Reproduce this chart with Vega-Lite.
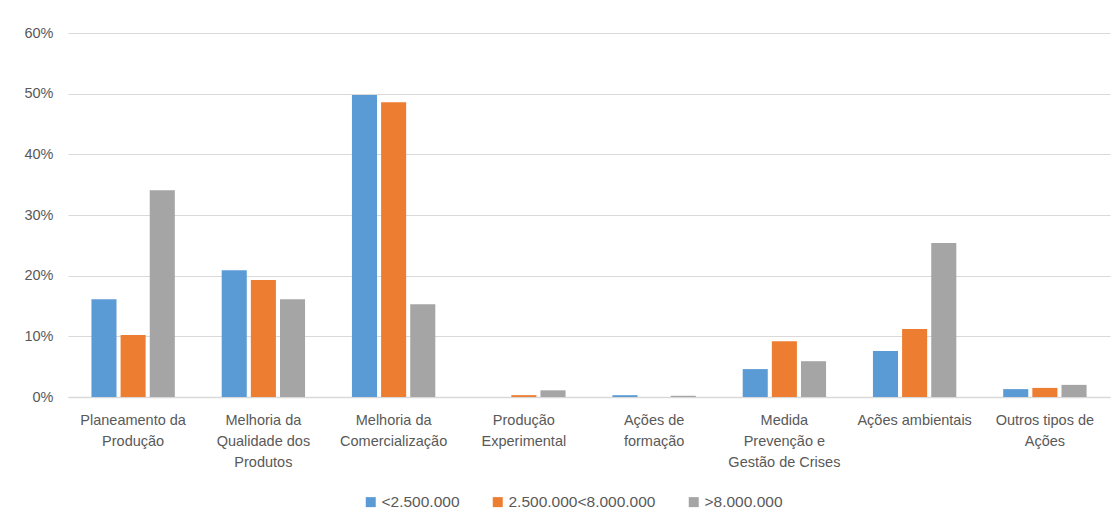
{
  "$schema": "https://vega.github.io/schema/vega-lite/v6.json",
  "width": 1042,
  "height": 364,
  "autosize": {"type": "none"},
  "padding": {"left": 68, "top": 33, "right": 10, "bottom": 128},
  "background": "white",
  "config": {
    "view": {"stroke": null},
    "font": "Liberation Sans",
    "axis": {"labelFont": "Liberation Sans", "labelColor": "#595959", "labelFontSize": 14.5},
    "legend": {"labelFont": "Liberation Sans", "labelColor": "#595959", "labelFontSize": 15.5}
  },
  "data": {
    "values": [
      {"categoria": "Planeamento da Produção", "escalao": "<2.500.000", "valor": 0.161},
      {"categoria": "Planeamento da Produção", "escalao": "2.500.000<8.000.000", "valor": 0.102},
      {"categoria": "Planeamento da Produção", "escalao": ">8.000.000", "valor": 0.341},
      {"categoria": "Melhoria da Qualidade dos Produtos", "escalao": "<2.500.000", "valor": 0.209},
      {"categoria": "Melhoria da Qualidade dos Produtos", "escalao": "2.500.000<8.000.000", "valor": 0.193},
      {"categoria": "Melhoria da Qualidade dos Produtos", "escalao": ">8.000.000", "valor": 0.161},
      {"categoria": "Melhoria da Comercialização", "escalao": "<2.500.000", "valor": 0.498},
      {"categoria": "Melhoria da Comercialização", "escalao": "2.500.000<8.000.000", "valor": 0.486},
      {"categoria": "Melhoria da Comercialização", "escalao": ">8.000.000", "valor": 0.153},
      {"categoria": "Produção Experimental", "escalao": "<2.500.000", "valor": 0.0},
      {"categoria": "Produção Experimental", "escalao": "2.500.000<8.000.000", "valor": 0.003},
      {"categoria": "Produção Experimental", "escalao": ">8.000.000", "valor": 0.011},
      {"categoria": "Ações de formação", "escalao": "<2.500.000", "valor": 0.003},
      {"categoria": "Ações de formação", "escalao": "2.500.000<8.000.000", "valor": 0.0},
      {"categoria": "Ações de formação", "escalao": ">8.000.000", "valor": 0.002},
      {"categoria": "Medida Prevenção e Gestão de Crises", "escalao": "<2.500.000", "valor": 0.046},
      {"categoria": "Medida Prevenção e Gestão de Crises", "escalao": "2.500.000<8.000.000", "valor": 0.092},
      {"categoria": "Medida Prevenção e Gestão de Crises", "escalao": ">8.000.000", "valor": 0.059},
      {"categoria": "Ações ambientais", "escalao": "<2.500.000", "valor": 0.076},
      {"categoria": "Ações ambientais", "escalao": "2.500.000<8.000.000", "valor": 0.112},
      {"categoria": "Ações ambientais", "escalao": ">8.000.000", "valor": 0.254},
      {"categoria": "Outros tipos de Ações", "escalao": "<2.500.000", "valor": 0.013},
      {"categoria": "Outros tipos de Ações", "escalao": "2.500.000<8.000.000", "valor": 0.015},
      {"categoria": "Outros tipos de Ações", "escalao": ">8.000.000", "valor": 0.020}
    ]
  },
  "mark": {"type": "bar"},
  "encoding": {
    "x": {
      "field": "categoria",
      "type": "nominal",
      "sort": null,
      "title": null,
      "scale": {"paddingInner": 0.36, "paddingOuter": 0.18},
      "axis": {
        "labelAngle": 0,
        "ticks": false,
        "domainColor": "#d9d9d9",
        "domainWidth": 1.5,
        "labelPadding": 16,
        "labelLineHeight": 21,
        "labelBaseline": "top",
        "labelLimit": 200,
        "labelOverlap": false,
        "labelExpr": "datum.label == 'Planeamento da Produção' ? ['Planeamento da', 'Produção'] : datum.label == 'Melhoria da Qualidade dos Produtos' ? ['Melhoria da', 'Qualidade dos', 'Produtos'] : datum.label == 'Melhoria da Comercialização' ? ['Melhoria da', 'Comercialização'] : datum.label == 'Produção Experimental' ? ['Produção', 'Experimental'] : datum.label == 'Ações de formação' ? ['Ações de', 'formação'] : datum.label == 'Medida Prevenção e Gestão de Crises' ? ['Medida', 'Prevenção e', 'Gestão de Crises'] : datum.label == 'Outros tipos de Ações' ? ['Outros tipos de', 'Ações'] : datum.label"
      }
    },
    "xOffset": {
      "field": "escalao",
      "type": "nominal",
      "sort": ["<2.500.000", "2.500.000<8.000.000", ">8.000.000"],
      "scale": {"paddingInner": 0.14}
    },
    "y": {
      "field": "valor",
      "type": "quantitative",
      "title": null,
      "scale": {"domain": [0, 0.6]},
      "axis": {
        "format": ".0%",
        "values": [0, 0.1, 0.2, 0.3, 0.4, 0.5, 0.6],
        "labelOverlap": false,
        "domain": false,
        "ticks": false,
        "labelPadding": 15,
        "gridColor": "#d9d9d9",
        "gridWidth": 1
      }
    },
    "color": {
      "field": "escalao",
      "type": "nominal",
      "sort": ["<2.500.000", "2.500.000<8.000.000", ">8.000.000"],
      "scale": {
        "domain": ["<2.500.000", "2.500.000<8.000.000", ">8.000.000"],
        "range": ["#5b9bd5", "#ed7d31", "#a5a5a5"]
      },
      "legend": {
        "title": null,
        "orient": "none",
        "legendX": 295,
        "legendY": 461,
        "direction": "horizontal",
        "symbolType": "square",
        "symbolSize": 100,
        "symbolStrokeWidth": 0,
        "labelOffset": 3,
        "columnPadding": 30
      }
    }
  }
}
